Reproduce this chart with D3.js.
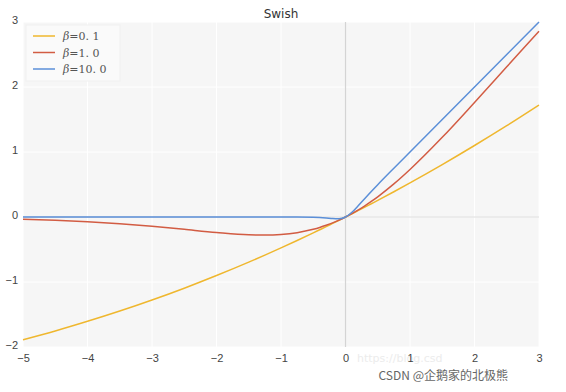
<!DOCTYPE html>
<html>
<head>
<meta charset="utf-8">
<script src="https://cdn.jsdelivr.net/npm/d3@7"></script>
<style>
  body { margin: 0; background: #fff; }
  svg { display: block; font-family: "DejaVu Sans", sans-serif; }
  .tick text { fill: #444; font-size: 11px; }
</style>
</head>
<body>
<svg id="chart" width="566" height="392"></svg>
<script>
"use strict";

// values
const xs = [-5, -4.5, -4, -3.5, -3, -2.5, -2, -1.5, -1.25, -1, -0.75, -0.5, -0.4, -0.3, -0.2, -0.1,
	0, 0.1, 0.2, 0.3, 0.4, 0.5, 0.75, 1, 1.5, 2, 2.5, 3];
const beta01 = [-1.888, -1.753, -1.605, -1.447, -1.277, -1.095, -0.900, -0.694, -0.586, -0.475, -0.361, -0.244,
	-0.196, -0.148, -0.099, -0.050, 0, 0.050, 0.101, 0.152, 0.204, 0.256, 0.389, 0.525, 0.806, 1.100, 1.405, 1.723];
const beta1 = [-0.034, -0.050, -0.072, -0.103, -0.142, -0.190, -0.238, -0.274, -0.278, -0.269, -0.241, -0.189,
	-0.161, -0.128, -0.090, -0.048, 0, 0.053, 0.110, 0.172, 0.240, 0.311, 0.509, 0.731, 1.226, 1.762, 2.310, 2.858];
const beta10 = [0, 0, 0, 0, 0, 0, 0, 0, 0, 0, -0.0004, -0.003, -0.007, -0.014, -0.024, -0.027,
	0, 0.073, 0.176, 0.286, 0.393, 0.497, 0.750, 1.0, 1.5, 2.0, 2.5, 3.0];
const seriesBetas = ["0. 1", "1. 0", "10. 0"];
const seriesColors = ["#efb72e", "#d25c43", "#5b8fd8"];
const xTicks = [-5, -4, -3, -2, -1, 0, 1, 2, 3];
const yTicks = [-2, -1, 0, 1, 2, 3];

const svg = d3.select("#chart");
const plotL = 23, plotR = 539, plotT = 22, plotB = 347;

const x = d3.scaleLinear().domain([-5, 3]).range([plotL, plotR]);
const y = d3.scaleLinear().domain([-2, 3]).range([plotB, plotT]);

// plot background
svg.append("rect")
	.attr("x", plotL).attr("y", plotT)
	.attr("width", plotR - plotL).attr("height", plotB - plotT)
	.attr("fill", "#f6f6f6");

// white grid
svg.append("g").selectAll("line")
	.data(xTicks).join("line")
	.attr("x1", d => x(d)).attr("x2", d => x(d))
	.attr("y1", plotT).attr("y2", plotB)
	.attr("stroke", "#fff").attr("stroke-width", 1);
svg.append("g").selectAll("line")
	.data(yTicks).join("line")
	.attr("y1", d => y(d)).attr("y2", d => y(d))
	.attr("x1", plotL).attr("x2", plotR)
	.attr("stroke", "#fff").attr("stroke-width", 1);

// zero lines
svg.append("line")
	.attr("x1", x(0)).attr("x2", x(0)).attr("y1", plotT).attr("y2", plotB)
	.attr("stroke", "#d4d4d4").attr("stroke-width", 1.2);
svg.append("line")
	.attr("y1", y(0)).attr("y2", y(0)).attr("x1", plotL).attr("x2", plotR)
	.attr("stroke", "#dcdcdc").attr("stroke-width", 1);

// faint watermark sits under the tick labels
svg.append("text")
	.attr("x", 357).attr("y", 362)
	.attr("font-size", 11).attr("fill", "#ececec")
	.text("https://blog.csd");

// axes, text only
const xAxis = svg.append("g")
	.attr("transform", `translate(0, ${plotB})`)
	.call(d3.axisBottom(x).tickValues(xTicks).tickSize(0).tickPadding(7)
		.tickFormat(d => d < 0 ? "\u2212" + Math.abs(d) : d));
xAxis.select(".domain").remove();

const yAxis = svg.append("g")
	.attr("transform", `translate(${plotL}, 0)`)
	.call(d3.axisLeft(y).tickValues(yTicks).tickSize(0).tickPadding(5)
		.tickFormat(d => d < 0 ? "\u2212" + Math.abs(d) : d));
yAxis.select(".domain").remove();
yAxis.selectAll(".tick text").attr("dy", "0.1em");

// curves
const line = d3.line()
	.x((d, i) => x(xs[i]))
	.y(d => y(d))
	.curve(d3.curveMonotoneX);

[beta01, beta1, beta10].forEach((vals, i) => {
	svg.append("path")
		.datum(vals)
		.attr("d", line)
		.attr("fill", "none")
		.attr("stroke", seriesColors[i])
		.attr("stroke-width", 1.5);
});

// title
svg.append("text")
	.attr("x", (plotL + plotR) / 2).attr("y", 18)
	.attr("text-anchor", "middle")
	.attr("font-size", 12).attr("fill", "#333")
	.text("Swish");

// legend
const legend = svg.append("g");
legend.append("rect")
	.attr("x", 26).attr("y", 25).attr("width", 94).attr("height", 56)
	.attr("fill", "#fafafa").attr("stroke", "#f0f0f0");
seriesBetas.forEach((b, i) => {
	let ly = 36 + i * 16.5;
	legend.append("line")
		.attr("x1", 33).attr("x2", 55).attr("y1", ly).attr("y2", ly)
		.attr("stroke", seriesColors[i]).attr("stroke-width", 1.5);
	let t = legend.append("text")
		.attr("x", 63).attr("y", ly + 4)
		.attr("font-family", "DejaVu Serif, serif")
		.attr("font-size", 11).attr("fill", "#555");
	t.append("tspan").attr("font-style", "italic").text("\u03b2");
	t.append("tspan").text("=" + b);
});

// bottom-right credit
svg.append("text")
	.attr("x", 508).attr("y", 380)
	.attr("text-anchor", "end")
	.attr("font-family", "Noto Sans CJK SC, sans-serif")
	.attr("font-size", 12).attr("fill", "#666")
	.text("CSDN @企鹅家的北极熊");
</script>
</body>
</html>
